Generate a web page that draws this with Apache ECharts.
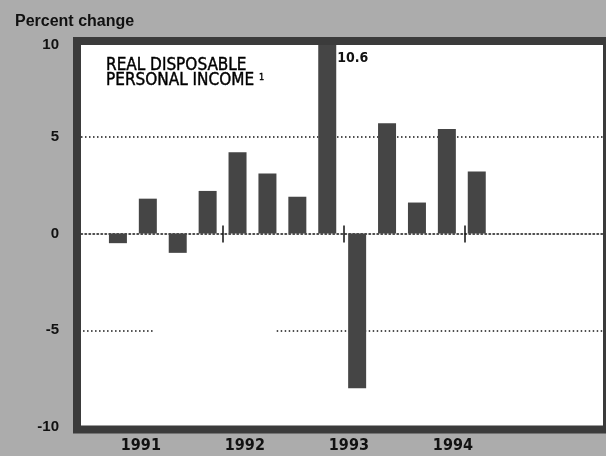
<!DOCTYPE html>
<html><head><meta charset="utf-8">
<script src="https://cdn.jsdelivr.net/npm/echarts@6/dist/echarts.min.js"></script>
<style>html,body{margin:0;padding:0;background:#acacac}#c{width:606px;height:456px}</style>
</head><body><div id="c"></div>
<script>
// Quarterly percent change, real disposable personal income
const quarters = ['1991 Q1','1991 Q2','1991 Q3','1991 Q4','1992 Q1','1992 Q2','1992 Q3','1992 Q4','1993 Q1','1993 Q2','1993 Q3','1993 Q4','1994 Q1'];
const values = [-0.5, 1.8, -1.0, 2.2, 4.2, 3.1, 1.9, 10.6, -8.0, 5.7, 1.6, 5.4, 3.2];
const yearLabels = [1991, 1992, 1993, 1994];
const yearBreaks = [4.5, 8.55, 12.6];          // year separator ticks (quarter index)
const gridAtFive = 5;
const minusFiveSegments = [[-0.3, 2.17], [6.31, 17.3]]; // broken -5 rule (quarter index)
const labelledQuarter = '1992 Q4';

const narrow = '"Liberation Sans Narrow","DejaVu Sans Condensed","Arial Narrow","Liberation Sans",sans-serif';
const sans = '"Liberation Sans",Arial,sans-serif';
const dot = { type: [1.5, 2.5], color: '#151515', width: 1.5 };

const barData = values.map((v, i) => {
  const item = { value: [i + 1, v] };
  if (quarters[i] === labelledQuarter) {
    item.label = { show: true, position: [19, 11], formatter: String(v), color: '#111',
      fontFamily: narrow, fontSize: 14, fontWeight: 'bold', align: 'left', verticalAlign: 'top' };
  }
  return item;
});

const yBase = { type: 'value', min: -10, max: 10, interval: 5,
  axisLine: { show: false }, axisTick: { show: false }, splitLine: { show: false } };

const chart = echarts.init(document.getElementById('c'), null, { renderer: 'canvas' });
chart.setOption({
  backgroundColor: '#acacac',
  animation: false,
  title: [
    { text: 'Percent change', left: 10, top: 9,
      textStyle: { fontFamily: sans, fontSize: 16, fontWeight: 'bold', color: '#111' } },
    { text: 'REAL DISPOSABLE\nPERSONAL INCOME {s|1}', left: 101, top: 53,
      textStyle: { fontFamily: narrow, fontSize: 17, fontWeight: 'normal', color: '#000', lineHeight: 15,
        textBorderColor: '#000', textBorderWidth: 0.4,
        rich: { s: { fontSize: 9, verticalAlign: 'top', padding: [0, 0, 8, 0], fontFamily: narrow, color: '#000' } } } }
  ],
  grid: { left: 77, top: 40, width: 530, height: 387, show: true, backgroundColor: '#ffffff', borderWidth: 0 },
  graphic: [
    { type: 'rect', z: 100, silent: true,
      shape: { x: 77, y: 41, width: 530, height: 388.5 },
      style: { fill: 'none', stroke: '#3b3b3b', lineWidth: 8 } }
  ],
  xAxis: [
    { type: 'value', min: -0.3685, max: 17.322, position: 'bottom',
      axisLine: { show: true, onZero: true, onZeroAxisIndex: 0, lineStyle: dot },
      axisTick: { show: true, customValues: yearBreaks, length: 9, lineStyle: { color: '#111', width: 1.5 } },
      axisLabel: { show: false }, splitLine: { show: false } },
    { type: 'value', min: -0.3685, max: 17.322, position: 'bottom',
      axisLine: { show: true, onZero: true, onZeroAxisIndex: 1, lineStyle: { opacity: 0 } },
      axisTick: { show: true, inside: true, customValues: yearBreaks, length: 8, lineStyle: { color: '#111', width: 1.5 } },
      axisLabel: { show: false }, splitLine: { show: false } },
    { type: 'value', min: 1990.386, max: 1995.472, position: 'bottom',
      axisLine: { show: false, onZero: false }, axisTick: { show: false }, splitLine: { show: false },
      axisLabel: { show: true, customValues: yearLabels, formatter: v => String(v), margin: 11,
        fontFamily: narrow, fontSize: 16, fontWeight: 'bold', color: '#111' } }
  ],
  yAxis: [
    Object.assign({}, yBase, {
      axisLabel: { formatter: v => (v === 10 ? '{t|10}' : String(v)), margin: 18,
        fontFamily: sans, fontSize: 15, fontWeight: 'bold', color: '#111',
        rich: { t: { padding: [9, 0, 0, 0], fontFamily: sans, fontSize: 15, fontWeight: 'bold', color: '#111' } } } }),
    Object.assign({}, yBase, { position: 'left', axisLabel: { show: false } })
  ],
  series: [{
    type: 'bar', xAxisIndex: 0, yAxisIndex: 0, barWidth: 18, z: 2,
    itemStyle: { color: '#454545' },
    data: barData,
    markLine: {
      silent: true, symbol: 'none', z: 1, label: { show: false }, lineStyle: dot,
      data: [
        { yAxis: gridAtFive },
        ...minusFiveSegments.map(s => [{ coord: [s[0], -gridAtFive] }, { coord: [s[1], -gridAtFive] }])
      ]
    }
  }]
});
</script></body></html>
